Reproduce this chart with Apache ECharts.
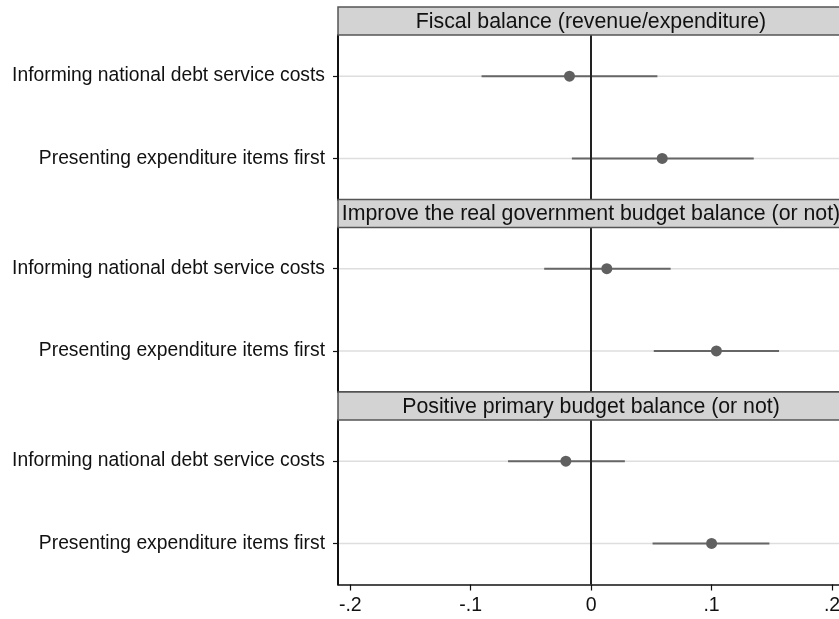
<!DOCTYPE html>
<html>
<head>
<meta charset="utf-8">
<script src="https://cdn.jsdelivr.net/npm/echarts@6/dist/echarts.min.js"></script>
<style>
  html, body { margin: 0; padding: 0; background: #fff; }
  #chart { width: 839px; height: 619px; }
</style>
</head>
<body>
<div id="chart"></div>
<script>
// Treatment labels (rows in every panel, top to bottom)
const treatments = ['Informing national debt service costs', 'Presenting expenditure items first'];

// Outcome panels
const panelTitles = [
  'Fiscal balance (revenue/expenditure)',
  'Improve the real government budget balance (or not)',
  'Positive primary budget balance (or not)'
];

// Point estimates per panel, one per treatment
const estimates = [
  [-0.018, 0.059],
  [0.013, 0.104],
  [-0.021, 0.100]
];

// Confidence interval bounds per panel
const ciLower = [
  [-0.091, -0.016],
  [-0.039, 0.052],
  [-0.069, 0.051]
];
const ciUpper = [
  [0.055, 0.135],
  [0.066, 0.156],
  [0.028, 0.148]
];

// x-axis tick values and their labels
const xTicks = [-0.2, -0.1, 0, 0.1, 0.2];
const xTickLabels = ['-.2', '-.1', '0', '.1', '.2'];

const FONT = '"Liberation Sans", Arial, Helvetica, sans-serif';
// the plot region runs a little past the right edge of the page
const X_MIN = -0.2102, X_MAX = 0.2058;

const gridLeft = 338;
const firstTop = 7, headerH = 28, plotH = 164.5;
const titleCenterX = 591;

const grids = [], xAxes = [], yAxes = [], series = [], graphics = [];

panelTitles.forEach((title, p) => {
  const headerTop = firstTop + p * (headerH + plotH);
  const plotTop = headerTop + headerH;
  const isLast = p === panelTitles.length - 1;

  grids.push({
    left: gridLeft, right: 0, top: plotTop, height: plotH, show: false,
    outerBoundsMode: 'none', containLabel: false
  });

  xAxes.push({
    type: 'value', gridIndex: p, min: X_MIN, max: X_MAX,
    axisLine: { show: true, onZero: false, lineStyle: { color: '#111', width: 1.5 } },
    axisTick: { show: isLast, length: 6, customValues: xTicks, lineStyle: { color: '#111', width: 1.2 } },
    axisLabel: {
      show: isLast, customValues: xTicks, margin: 11, hideOverlap: false,
      fontFamily: FONT, fontSize: 19.5, color: '#111',
      formatter: v => {
        const i = xTicks.findIndex(t => Math.abs(t - v) < 1e-9);
        return i >= 0 ? xTickLabels[i] : '';
      }
    },
    splitLine: { show: false }
  });

  yAxes.push({
    type: 'category', gridIndex: p, data: treatments, inverse: true,
    axisLine: { show: true, onZero: false, lineStyle: { color: '#111', width: 2 } },
    axisTick: { show: true, alignWithLabel: true, length: 5, lineStyle: { color: '#111', width: 1.2 } },
    axisLabel: { fontFamily: FONT, fontSize: 19.3, color: '#111', margin: 13 },
    splitLine: { show: false }
  });

  // row reference lines and confidence intervals
  series.push({
    type: 'custom', xAxisIndex: p, yAxisIndex: p, z: 2, silent: true,
    data: treatments.map((t, i) => [i, ciLower[p][i], ciUpper[p][i]]),
    renderItem: (params, api) => {
      const cs = params.coordSys;
      const a = api.coord([api.value(1), api.value(0)]);
      const b = api.coord([api.value(2), api.value(0)]);
      return {
        type: 'group',
        children: [
          {
            type: 'line', z2: 1,
            shape: { x1: cs.x + 1, y1: a[1], x2: cs.x + cs.width + 10, y2: a[1] },
            style: { stroke: '#dedede', lineWidth: 1.5 }
          },
          {
            type: 'line', z2: 2,
            shape: { x1: a[0], y1: a[1], x2: b[0], y2: b[1] },
            style: { stroke: '#666', lineWidth: 2 }
          }
        ]
      };
    },
    encode: { x: [1, 2], y: 0 }
  });

  // vertical line at zero
  series.push({
    type: 'line', xAxisIndex: p, yAxisIndex: p, data: [], z: 3, silent: true,
    markLine: {
      silent: true, symbol: 'none', label: { show: false },
      lineStyle: { color: '#222', width: 2, type: 'solid' },
      data: [{ xAxis: 0 }]
    }
  });

  // point estimates
  series.push({
    type: 'scatter', xAxisIndex: p, yAxisIndex: p, z: 5, silent: true,
    symbol: 'circle', symbolSize: 11,
    itemStyle: { color: '#606060', opacity: 1 },
    data: treatments.map((t, i) => [estimates[p][i], i])
  });

  // panel header strip
  graphics.push({
    type: 'rect', z: 100,
    shape: { x: gridLeft, y: headerTop, width: 520, height: headerH },
    style: { fill: '#d3d3d3', stroke: '#555', lineWidth: 1.5 }
  });
  graphics.push({
    type: 'text', z: 101,
    x: titleCenterX, y: headerTop + headerH / 2 + 1,
    style: {
      text: title, fontFamily: FONT, fontSize: 21.3, fill: '#111',
      align: 'center', verticalAlign: 'middle'
    }
  });
});

const chart = echarts.init(document.getElementById('chart'), null, { renderer: 'canvas' });
chart.setOption({
  animation: false,
  backgroundColor: '#fff',
  grid: grids,
  xAxis: xAxes,
  yAxis: yAxes,
  series: series,
  graphic: graphics
});
</script>
</body>
</html>
